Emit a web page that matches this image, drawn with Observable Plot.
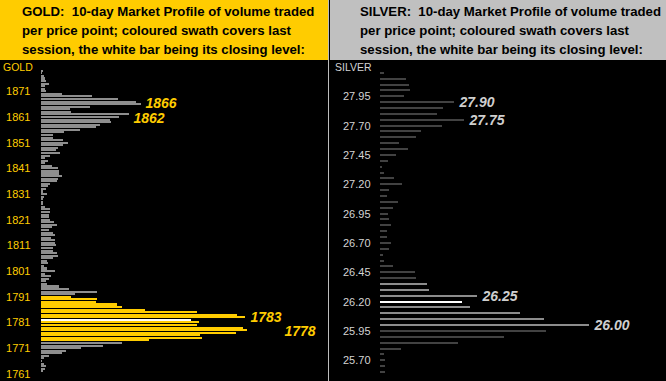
<!DOCTYPE html>
<html><head><meta charset="utf-8">
<script src="https://cdn.jsdelivr.net/npm/d3@7"></script>
<script src="https://cdn.jsdelivr.net/npm/@observablehq/plot@0.6"></script>
<style>
html,body{margin:0;padding:0;background:#000;}
#wrap{position:relative;width:666px;height:381px;overflow:hidden;background:#000;font-family:"Liberation Sans",Arial,sans-serif;}
.panel{position:absolute;top:0;height:381px;background:#000;}
.head{height:60px;box-sizing:border-box;padding:2px 0 0 0;font-weight:bold;font-size:13.2px;line-height:19px;color:#000;white-space:nowrap;}
.tag{position:absolute;top:61px;font-size:10.5px;}
.panel svg{display:block;}
</style></head>
<body><div id="wrap">
  <div class="panel" id="gold" style="left:0;width:328px;">
    <div class="head" style="background:#ffcc00;padding-left:22px;">GOLD:&nbsp; 10-day Market Profile of volume traded<br>per price point; coloured swath covers last<br>session, the white bar being its closing level:</div>
    <div class="tag" style="left:3px;color:#ffcc00;">GOLD</div>
  </div>
  <div style="position:absolute;left:328px;top:0;width:1px;height:381px;background:#bdbdbd;"></div>
  <div class="panel" id="silver" style="left:330px;width:336px;">
    <div class="head" style="background:#c0c0c0;padding-left:30px;">SILVER:&nbsp; 10-day Market Profile of volume traded<br>per price point; coloured swath covers last<br>session, the white bar being its closing level:</div>
    <div class="tag" style="left:5px;color:#d4d4d4;">SILVER</div>
  </div>
</div>
<script>
// ---------- GOLD ----------
const goldPrices = [1879,1878,1877,1876,1875,1874,1873,1872,1871,1870,1869,1868,1867,1866,1865,1864,1863,1862,1861,1860,
1859,1858,1857,1856,1855,1854,1853,1852,1851,1850,1849,1848,1847,1846,1845,1844,1843,1842,1841,1840,
1839,1838,1837,1836,1835,1834,1833,1832,1831,1830,1829,1828,1827,1826,1825,1824,1823,1822,1821,1820,
1819,1818,1817,1816,1815,1814,1813,1812,1811,1810,1809,1808,1807,1806,1805,1804,1803,1802,1801,1800,
1799,1798,1797,1796,1795,1794,1793,1792,1791,1790,1789,1788,1787,1786,1785,1784,1783,1782,1781,1780,
1779,1778,1777,1776,1775,1774,1773,1772,1771,1770,1769,1768,1767,1766,1765,1764,1763,1762];
const goldVolume = [2,1,3,4,5,8,4,4,5,21,51,77,95,100,49,29,30,88,78,69,
70,59,55,39,23,12,12,22,27,22,17,15,19,9,4,7,4,11,17,18,
18,21,17,16,9,7,5,2,6,3,2,2,2,4,9,9,8,8,9,13,
16,11,8,12,14,10,14,14,15,12,12,16,17,12,6,7,3,6,14,4,
10,8,5,6,18,28,56,34,30,56,55,76,81,104,156,196,204,150,158,156,
202,206,195,159,161,108,81,62,40,25,21,8,3,1,3,5,4,2];
const goldTicks = [1871,1861,1851,1841,1831,1821,1811,1801,1791,1781,1771,1761];
const goldSwathHigh = 1791, goldSwathLow = 1774, goldClose = 1782;
const goldNotes = ["1866","1862","1783","1778"];

// ---------- SILVER ----------
const silverPrices = [28.15,28.10,28.05,28.00,27.95,27.90,27.85,27.80,27.75,27.70,27.65,27.60,27.55,27.50,27.45,27.40,27.35,27.30,
27.25,27.20,27.15,27.10,27.05,27.00,26.95,26.90,26.85,26.80,26.75,26.70,26.65,26.60,26.55,26.50,26.45,26.40,26.35,26.30,
26.25,26.20,26.15,26.10,26.05,26.00,25.95,25.90,25.85,25.80,25.75,25.70,25.65,25.60];
const silverVolume = [4,26,29,30,24,74,63,57,84,62,41,36,19,28,16,8,2,4,
14,22,9,7,18,13,8,9,11,7,7,11,9,3,4,13,35,36,47,49,
97,82,90,140,164,209,166,124,78,21,4,5,5,5];
const silverTicks = [27.95,27.70,27.45,27.20,26.95,26.70,26.45,26.20,25.95,25.70];
const silverSwathHigh = 26.35, silverSwathLow = 26.00, silverClose = 26.20;
const silverNotes = ["27.90","27.75","26.25","26.00"];

const goldRows = goldPrices.map((p,i)=>({p, v: goldVolume[i],
  kind: p===goldClose ? "close" : (p<=goldSwathHigh && p>=goldSwathLow ? "swath" : "base")}));
const silverRows = silverPrices.map((p,i)=>({p, v: silverVolume[i],
  kind: Math.abs(p-silverClose)<1e-6 ? "close" : (p<=silverSwathHigh+1e-6 && p>=silverSwathLow-1e-6 ? "swath" : "base")}));

const goldNoteRows = goldNotes.map(s=>{const p=+s; return {p, v: goldVolume[goldPrices.indexOf(p)], s};});
const silverNoteRows = silverNotes.map(s=>{const p=+s; return {p, v: silverVolume[silverPrices.findIndex(q=>Math.abs(q-p)<1e-6)], s};});

const font = '"Liberation Sans", Arial, sans-serif';
const noteStyle = {textAnchor:"start", fontSize:14, fontWeight:"bold", fontStyle:"italic"};

const goldColor = {base:"#8e8e8e", swath:"#ffcc00", close:"#ffffff"};
const goldPlot = Plot.plot({
  width: 328, height: 321,
  marginLeft: 41, marginRight: 0, marginTop: 0, marginBottom: 0,
  style: {background:"#000", color:"#ffcc00", fontFamily: font, fontSize:"11px"},
  x: {domain:[0, 287], axis: null},
  y: {domain:[1758.2, 1883.2], ticks: goldTicks, tickSize: 0, tickPadding: 11, tickFormat: d=>String(d), label: null},
  marks: [
    Plot.rect(goldRows, {x1: 0, x2: "v", y1: d=>d.p-0.4, y2: d=>d.p+0.4, fill: d=>goldColor[d.kind], shapeRendering:"crispEdges"}),
    Plot.text(goldNoteRows.filter(d=>d.s==="1866"), {x:"v", y:"p", text:"s", dx:4, dy:-1, fill:"#ffcc00", ...noteStyle}),
    Plot.text(goldNoteRows.filter(d=>d.s==="1862"), {x:"v", y:"p", text:"s", dx:4, dy:3.5, fill:"#ffcc00", ...noteStyle}),
    Plot.text(goldNoteRows.filter(d=>d.s==="1783"), {x:"v", y:"p", text:"s", dx:5, dy:-0.5, fill:"#ffcc00", ...noteStyle}),
    Plot.text(goldNoteRows.filter(d=>d.s==="1778"), {x:"v", y:"p", text:"s", dx:37, dy:1, fill:"#ffcc00", ...noteStyle})
  ]
});
document.getElementById("gold").appendChild(goldPlot);

const silverColor = {base:"#424242", swath:"#8c8c8c", close:"#ffffff"};
const silverPlot = Plot.plot({
  width: 336, height: 321,
  marginLeft: 50, marginRight: 0, marginTop: 0, marginBottom: 0,
  style: {background:"#000", color:"#d4d4d4", fontFamily: font, fontSize:"11px"},
  x: {domain:[0, 286], axis: null},
  y: {domain:[25.5235, 28.259], ticks: silverTicks, tickSize: 0, tickPadding: 10, tickFormat: d=>d.toFixed(2), label: null},
  marks: [
    Plot.rect(silverRows, {x1: 0, x2: "v", y1: d=>d.p-0.0085, y2: d=>d.p+0.0085, fill: d=>silverColor[d.kind], shapeRendering:"crispEdges"}),
    Plot.text(silverNoteRows, {x:"v", y:"p", text:"s", dx:5, fill:"#cfcfcf", ...noteStyle})
  ]
});
document.getElementById("silver").appendChild(silverPlot);
</script>
</body></html>
